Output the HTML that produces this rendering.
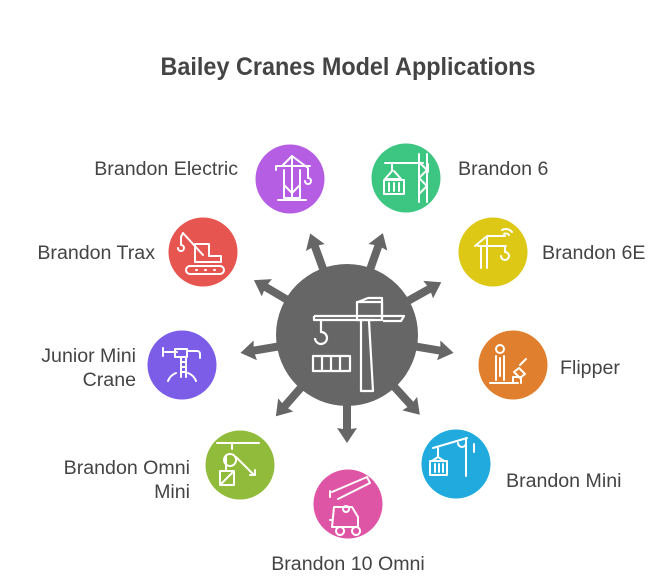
<!DOCTYPE html>
<html><head><meta charset="utf-8"><style>
html,body{margin:0;padding:0;background:#fff;}
svg{display:block}
text{font-family:"Liberation Sans",sans-serif;fill:#444;font-size:19.6px}
</style></head><body>
<svg width="672" height="582" viewBox="0 0 672 582" xmlns="http://www.w3.org/2000/svg">
<text x="348" y="75" text-anchor="middle" font-weight="bold" font-size="25" textLength="375" lengthAdjust="spacingAndGlyphs" style="fill:#444;font-size:25px">Bailey Cranes Model Applications</text>

<g fill="#666">
<g transform="translate(347,335)">
<polygon points="0,-4 94,-4 93,-10 108,0 93,10 94,4 0,4" transform="rotate(-109.9)"/>
<polygon points="0,-4 94,-4 93,-10 108,0 93,10 94,4 0,4" transform="rotate(-70.6)"/>
<polygon points="0,-4 94,-4 93,-10 108,0 93,10 94,4 0,4" transform="rotate(-149.5)"/>
<polygon points="0,-4 94,-4 93,-10 108,0 93,10 94,4 0,4" transform="rotate(-29.2)"/>
<polygon points="0,-4 94,-4 93,-10 108,0 93,10 94,4 0,4" transform="rotate(170.5)"/>
<polygon points="0,-4 94,-4 93,-10 108,0 93,10 94,4 0,4" transform="rotate(9.5)"/>
<polygon points="0,-4 94,-4 93,-10 108,0 93,10 94,4 0,4" transform="rotate(131.2)"/>
<polygon points="0,-4 94,-4 93,-10 108,0 93,10 94,4 0,4" transform="rotate(90)"/>
<polygon points="0,-4 94,-4 93,-10 108,0 93,10 94,4 0,4" transform="rotate(47.6)"/>
</g>
<circle cx="347" cy="335" r="71"/>
</g>
<g fill="none" stroke="#fff" stroke-width="2.2" stroke-linejoin="round">
<path d="M314,316 h68 M314,316 v4 h60 M382,316 h22 l-3,5 h-18"/>
<rect x="357" y="302" width="25" height="18"/>
<path d="M358,302 l10,-4 h14 v20"/>
<path d="M361,321 v70 h12 l-4,-70"/>
<path d="M321,320 v12 a6,6 0 1 1 -6,6"/>
<rect x="313" y="356" width="37" height="15"/>
<path d="M322,356 v15 M331,356 v15 M340,356 v15"/>
</g>

<circle cx="290" cy="179" r="34.5" fill="#b65ee3"/>
<circle cx="406" cy="178" r="34.5" fill="#3dc582"/>
<circle cx="203" cy="252" r="34.5" fill="#e6554f"/>
<circle cx="493" cy="252" r="34.5" fill="#dec816"/>
<circle cx="182" cy="365" r="34.5" fill="#7c5de8"/>
<circle cx="513" cy="365" r="34.5" fill="#e07f2d"/>
<circle cx="240" cy="465" r="34.5" fill="#91bb3a"/>
<circle cx="456" cy="464" r="34.5" fill="#20aadd"/>
<circle cx="348" cy="504" r="34.5" fill="#df55a6"/>

<g fill="none" stroke="#fff" stroke-width="2" stroke-linejoin="round" stroke-linecap="round">
<path d="M276,166 h34 M276,166 v4 M282,166 l10,-10 l16,12 M292,156 v42 M284,170 v28 h16 v-28 M284,185 l8,8 l8,-8 M278,200 h28 M308,168 v10 a3,3 0 1 1 -3,3"/>
<path d="M385,163 h38 M392,163 v8 l-7,8 h16 l-7,-8 M384,180 h20 v14 h-20z M389,183 v8 M394,183 v8 M399,183 v8 M419,154 v48 M427,154 v48 M419,162 l8,8 l-8,8 l8,8 l-8,8 M428,164 v8"/>
<path d="M183,233 l20,22 M183,233 l-2,4 v8 a3,3 0 1 1 -3,3 M195,244 h14 v12 h12 v6 h-26z M190,266 h30 a4,4 0 0 1 0,8 h-30 a4,4 0 0 1 0,-8 M196,270 h1 M205,270 h1 M214,270 h1"/>
<path d="M475,246 l12,-10 h18 M478,246 h28 M487,236 v32 M481,246 v22 M505,246 v6 a4,4 0 1 1 -4,4 M502,230 a8,8 0 0 1 10,2 M504,234 a4,4 0 0 1 5,1"/>
<path d="M165,352 h12 M163,348 v8 M175,349 h12 v8 h-12z M187,351 h10 a3,3 0 0 1 3,3 v4 M181,357 v20 M186,357 v20 M181,362 h5 M181,367 h5 M181,372 h5 M168,381 a14,14 0 0 1 8,-8 M196,381 a14,14 0 0 0 -8,-8"/>
<circle cx="500" cy="349" r="4"/>
<path d="M496,356 v24 M504,356 v24 M500,358 v18 M490,383 h28 M520,365 l6,-6 M514,372 l6,6 l5,-4 l-6,-6z M513,383 v-6 h8 v6"/>
<path d="M217,443 h42 M232,443 v6 M230,454 a6,6 0 1 0 0.1,0 M226,457 v14 M236,457 l18,18 M250,475 h5 v-5 M220,471 h14 v14 h-14z M221,484 l12,-12"/>
<path d="M433,448 l34,-10 M438,447 v10 M432,461 l6,-4 l6,4 M430,461 h17 v14 h-17z M435,464 v8 M439,464 v8 M443,464 v8 M466,438 v38 M458,443 a4,4 0 0 0 8,0 M474,444 v8"/>
<path d="M332,492 l35,-15 l3,6 l-32,16 M330,491 v6 M334,507 h18 l6,10 v10 h-26z M333,520 h-3 M340,527 a4,4 0 1 0 0.1,0 M356,527 a4,4 0 1 0 0.1,0 M346,506 a3,3 0 1 0 0.1,0"/>
</g>

<text x="238" y="175" text-anchor="end">Brandon Electric</text>
<text x="458" y="175">Brandon 6</text>
<text x="155" y="259" text-anchor="end">Brandon Trax</text>
<text x="542" y="259">Brandon 6E</text>
<text x="136" y="362" text-anchor="end">Junior Mini</text>
<text x="136" y="386" text-anchor="end">Crane</text>
<text x="560" y="374">Flipper</text>
<text x="190" y="474" text-anchor="end">Brandon Omni</text>
<text x="190" y="498" text-anchor="end">Mini</text>
<text x="506" y="487">Brandon Mini</text>
<text x="348" y="570" text-anchor="middle">Brandon 10 Omni</text>
</svg>
</body></html>
